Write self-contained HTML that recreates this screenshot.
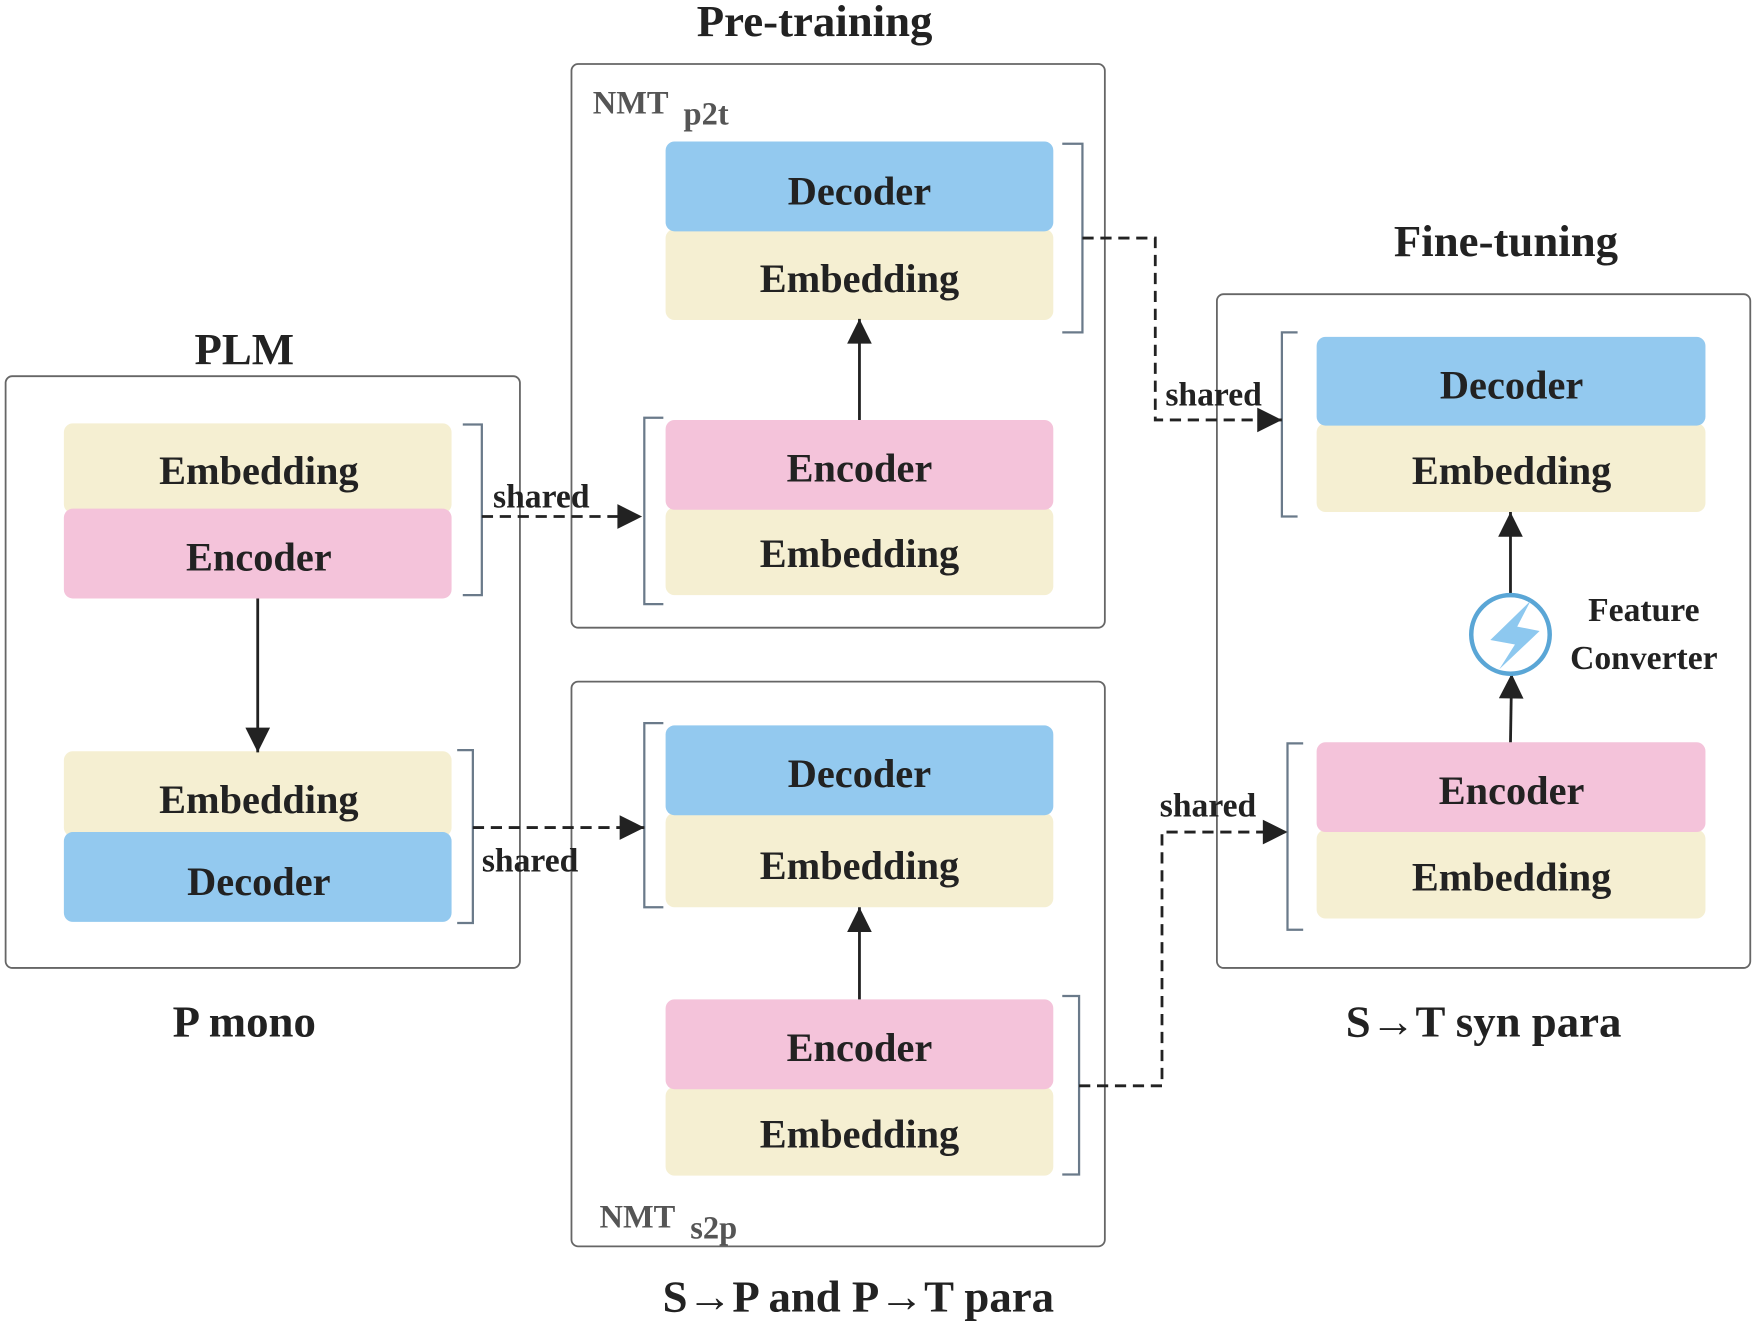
<!DOCTYPE html>
<html><head><style>html,body{margin:0;padding:0;background:#fff}svg{display:block}
svg text{font-family:'Liberation Serif','Times New Roman',Times,serif !important;font-weight:bold;fill:#222}</style></head>
<body>
<svg width="1757" height="1325" viewBox="0 0 1568 1180" preserveAspectRatio="none" xmlns="http://www.w3.org/2000/svg" font-family="Liberation Serif, Times New Roman, serif">
<defs>
<marker id="a2" viewBox="0 0 10 10" refX="10" refY="5" markerWidth="26" markerHeight="22" markerUnits="userSpaceOnUse" orient="auto"><path d="M0,0 L10,5 L0,10 z" fill="#222"/></marker>
</defs>
<g fill="none" stroke="#666" stroke-width="1.6">
<rect x="5" y="335" width="459" height="527" rx="6"/>
<rect x="510" y="57" width="476" height="502" rx="6"/>
<rect x="510" y="607" width="476" height="503" rx="6"/>
<rect x="1086" y="262" width="476" height="600" rx="6"/>
</g>
<g>
<rect x="57" y="377" width="346" height="80" rx="8" fill="#f5efd2"/>
<rect x="57" y="453" width="346" height="80" rx="8" fill="#f4c3da"/>
<rect x="57" y="669" width="346" height="76" rx="8" fill="#f5efd2"/>
<rect x="57" y="741" width="346" height="80" rx="8" fill="#93c9ef"/>
<rect x="594" y="204" width="346" height="81" rx="8" fill="#f5efd2"/>
<rect x="594" y="126" width="346" height="80" rx="8" fill="#93c9ef"/>
<rect x="594" y="452" width="346" height="78" rx="8" fill="#f5efd2"/>
<rect x="594" y="374" width="346" height="80" rx="8" fill="#f4c3da"/>
<rect x="594" y="724" width="346" height="84" rx="8" fill="#f5efd2"/>
<rect x="594" y="646" width="346" height="80" rx="8" fill="#93c9ef"/>
<rect x="594" y="968" width="346" height="79" rx="8" fill="#f5efd2"/>
<rect x="594" y="890" width="346" height="80" rx="8" fill="#f4c3da"/>
<rect x="1175" y="377" width="347" height="79" rx="8" fill="#f5efd2"/>
<rect x="1175" y="300" width="347" height="79" rx="8" fill="#93c9ef"/>
<rect x="1175" y="739" width="347" height="79" rx="8" fill="#f5efd2"/>
<rect x="1175" y="661" width="347" height="80" rx="8" fill="#f4c3da"/>
</g>
<g font-size="36" text-anchor="middle">
<text x="231" y="431">Embedding</text><text x="231" y="508">Encoder</text>
<text x="231" y="724">Embedding</text><text x="231" y="797">Decoder</text>
<text x="767" y="182">Decoder</text><text x="767" y="260">Embedding</text>
<text x="767" y="429">Encoder</text><text x="767" y="505">Embedding</text>
<text x="767" y="701">Decoder</text><text x="767" y="783">Embedding</text>
<text x="767" y="945">Encoder</text><text x="767" y="1022">Embedding</text>
<text x="1349" y="355">Decoder</text><text x="1349" y="431">Embedding</text>
<text x="1349" y="716">Encoder</text><text x="1349" y="793">Embedding</text>
</g>
<g fill="none" stroke="#6a7a8a" stroke-width="2">
<path d="M413,378 H430 V530 H413"/>
<path d="M408,668 H422 V822 H408"/>
<path d="M592,372 H575 V538 H592"/>
<path d="M592,644 H575 V808 H592"/>
<path d="M948,128 H966 V296 H948"/>
<path d="M948,887 H963 V1046 H948"/>
<path d="M1158,296 H1144 V460 H1158"/>
<path d="M1163,662 H1149 V828 H1163"/>
</g>
<g fill="none" stroke="#222" stroke-width="2.5" stroke-dasharray="10,6">
<path d="M430,460 H573" marker-end="url(#a2)"/>
<path d="M422,737 H575" marker-end="url(#a2)"/>
<path d="M966,212 H1031 V374 H1144" marker-end="url(#a2)"/>
<path d="M963,967 H1037 V741 H1149" marker-end="url(#a2)"/>
</g>
<g stroke="#222" stroke-width="2.5" fill="none">
<path d="M230,533 V670" marker-end="url(#a2)"/>
<path d="M767,374 V284" marker-end="url(#a2)"/>
<path d="M767,890 V808" marker-end="url(#a2)"/>
<path d="M1348,661 L1349,600" marker-end="url(#a2)"/>
<path d="M1348,529 V456" marker-end="url(#a2)"/>
</g>
<circle cx="1348" cy="565" r="35" fill="#fff" stroke="#5aa6d6" stroke-width="4"/>
<path d="M1366,535 L1330,570 L1352,574 L1338,596 L1374,562 L1354,558 Z" fill="#8dc8ef"/>
<g font-size="30" text-anchor="start">
<text x="440" y="452">shared</text>
<text x="430" y="776">shared</text>
<text x="1040" y="361">shared</text>
<text x="1035" y="727">shared</text>
</g>
<g font-size="30" text-anchor="middle">
<text x="1467" y="553">Feature</text>
<text x="1467" y="596">Converter</text>
</g>
<g font-size="29">
<text x="529" y="101" style="fill:#555">NMT</text>
<text x="610" y="111" style="fill:#555">p2t</text>
<text x="535" y="1093" style="fill:#555">NMT</text>
<text x="616" y="1103" style="fill:#555">s2p</text>
</g>
<g font-size="40" text-anchor="middle">
<text x="727" y="32">Pre-training</text>
<text x="218" y="324">PLM</text>
<text x="1344" y="228">Fine-tuning</text>
<text x="218" y="923">P mono</text>
<text x="1324" y="923">S→T syn para</text>
<text x="766" y="1168">S→P and P→T para</text>
</g>
</svg>
</body></html>
